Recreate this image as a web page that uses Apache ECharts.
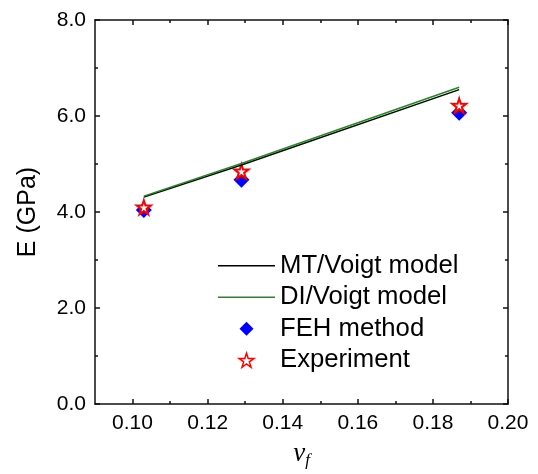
<!DOCTYPE html>
<html>
<head>
<meta charset="utf-8">
<script src="https://cdn.jsdelivr.net/npm/echarts@6/dist/echarts.min.js"></script>
<style>
html, body { margin: 0; padding: 0; background: #fff; }
#container { width: 538px; height: 474px; }
</style>
</head>
<body>
<div id="container"></div>
<script>
var dom = document.getElementById("container");
var myChart = echarts.init(dom);

// data
var vf = [0.103, 0.129, 0.187];
var mtVoigt = [4.31, 4.98, 6.55];
var diVoigt = [4.33, 5.01, 6.60];
var feh = [4.04, 4.67, 6.07];
var experiment = [4.10, 4.85, 6.22];

var xTicks = [0.10, 0.12, 0.14, 0.16, 0.18, 0.20];
var xMinorTicks = [0.11, 0.13, 0.15, 0.17, 0.19];
var legendNames = ['MT/Voigt model', 'DI/Voigt model', 'FEH method', 'Experiment'];

var starPath = 'path://M50,0 L61.2,34.5 L97.6,34.5 L68.2,55.9 L79.4,90.5 L50,69.1 L20.6,90.5 L31.8,55.9 L2.4,34.5 L38.8,34.5 Z';
var diamondPath = 'path://M50,0 L100,50 L50,100 L0,50 Z';
var linePath = 'path://M0,0 L57,0 L57,1.5 L0,1.5 Z';

var pairs = function (xs, ys) {
    var out = [];
    for (var i = 0; i < xs.length; i++) {
        out.push([xs[i], ys[i]]);
    }
    return out;
}

var axisCol = '#111';
var lineStyle = { color: axisCol, width: 1.5 };

var xAxisOf = function (pos, major, withLabel, withLine) {
    return {
        type: 'value',
        position: pos,
        min: 0.09,
        max: 0.20,
        splitLine: { show: false },
        axisLine: { show: withLine, onZero: false, lineStyle: lineStyle },
        axisTick: {
            show: true,
            inside: true,
            length: major ? 5 : 3,
            customValues: major ? xTicks : xMinorTicks,
            lineStyle: lineStyle
        },
        axisLabel: {
            show: withLabel,
            customValues: xTicks,
            margin: 9,
            color: '#000',
            fontFamily: 'Liberation Sans',
            fontSize: 21,
            formatter: function (v) { return v.toFixed(2); }
        }
    };
}

var yAxisOf = function (pos, withLabel) {
    return {
        type: 'value',
        position: pos,
        min: 0,
        max: 8,
        interval: 2,
        splitLine: { show: false },
        axisLine: { show: true, onZero: false, lineStyle: lineStyle },
        axisTick: { show: true, inside: true, length: 5, lineStyle: lineStyle },
        minorTick: { show: true, splitNumber: 2, length: 3, lineStyle: lineStyle },
        axisLabel: {
            show: withLabel,
            margin: 9,
            color: '#000',
            fontFamily: 'Liberation Sans',
            fontSize: 21,
            formatter: function (v) { return v.toFixed(1); }
        }
    };
}

var xMain = xAxisOf('bottom', true, true, true);
xMain.name = '{v|v}{f|f}';
xMain.nameLocation = 'middle';
xMain.nameGap = 34;
xMain.nameTextStyle = {
    rich: {
        v: { fontFamily: 'Liberation Serif', fontStyle: 'italic', fontSize: 27, color: '#000' },
        f: { fontFamily: 'Liberation Serif', fontStyle: 'italic', fontSize: 17, color: '#000', verticalAlign: 'bottom', padding: [14, 0, 0, 0] }
    }
};

var yMain = yAxisOf('left', true);
yMain.name = 'E (GPa)';
yMain.nameLocation = 'middle';
yMain.nameGap = 54;
yMain.nameTextStyle = { fontFamily: 'Liberation Sans', fontSize: 25, color: '#000' };

var option = {
    animation: false,
    backgroundColor: '#fff',
    grid: { left: 95, right: 30, top: 20, bottom: 68, containLabel: false },
    legend: {
        data: [
            { name: legendNames[0], icon: linePath },
            { name: legendNames[1], icon: linePath },
            { name: legendNames[2], icon: diamondPath },
            { name: legendNames[3], icon: starPath, itemStyle: { borderWidth: 1.5 } }
        ],
        orient: 'vertical',
        left: 218,
        top: 250,
        itemWidth: 57,
        itemHeight: 14,
        itemGap: 0,
        padding: 0,
        symbolKeepAspect: true,
        textStyle: { fontFamily: 'Liberation Sans', fontSize: 25.7, color: '#000', lineHeight: 31.5 }
    },
    xAxis: [
        xMain,
        xAxisOf('bottom', false, false, false),
        xAxisOf('top', true, false, true),
        xAxisOf('top', false, false, false)
    ],
    yAxis: [
        yMain,
        yAxisOf('right', false)
    ],
    series: [
        {
            name: legendNames[0],
            type: 'line',
            symbol: 'none',
            lineStyle: { color: '#000', width: 1.5 },
            itemStyle: { color: '#000' },
            data: pairs(vf, mtVoigt)
        },
        {
            name: legendNames[1],
            type: 'line',
            symbol: 'none',
            lineStyle: { color: '#1e8c1e', width: 1.5 },
            itemStyle: { color: '#1e8c1e' },
            data: pairs(vf, diVoigt)
        },
        {
            name: legendNames[2],
            type: 'scatter',
            symbol: diamondPath,
            symbolSize: 16,
            itemStyle: { color: '#0000ff', opacity: 1 },
            data: pairs(vf, feh)
        },
        {
            name: legendNames[3],
            type: 'scatter',
            symbol: starPath,
            symbolSize: 14,
            itemStyle: { color: '#fff', borderColor: '#ff0000', borderWidth: 2, opacity: 1 },
            data: pairs(vf, experiment)
        }
    ]
};

myChart.setOption(option);
</script>
</body>
</html>
